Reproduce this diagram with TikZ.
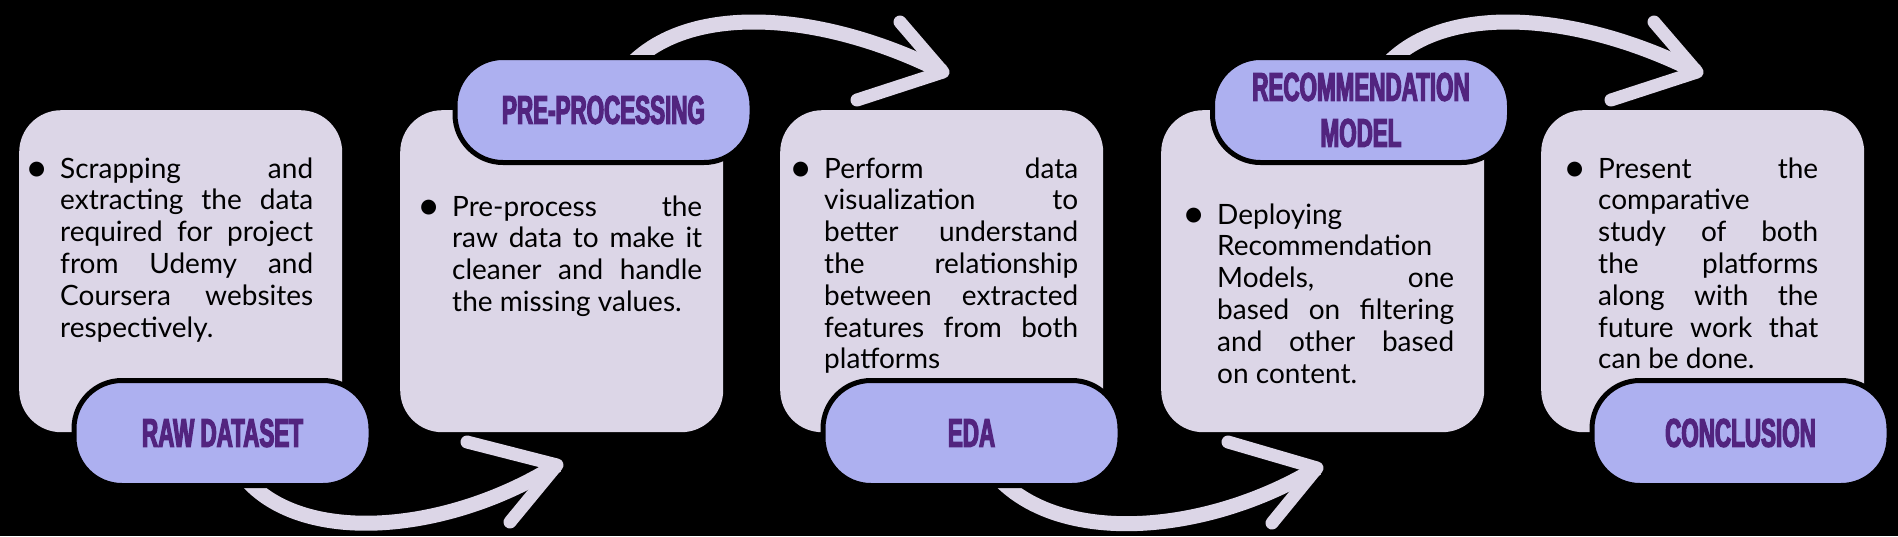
\documentclass[tikz,border=0pt]{standalone}
\usepackage{fontspec}
\setmainfont{Lato}
\newfontfamily\labelfont[FakeStretch=0.56,FakeBold=3]{Liberation Sans}
\usetikzlibrary{backgrounds}

\definecolor{boxfill}{HTML}{DCD6E7}
\definecolor{pillfill}{HTML}{ADB0F0}
\definecolor{labelink}{HTML}{52247F}

\newcommand{\bodytext}[2]{\parbox[t]{#1}{\fontsize{28}{31.8}\selectfont
  \tolerance=10000\hbadness=10000\hyphenpenalty=10000\exhyphenpenalty=10000
  \leavevmode\llap{\raisebox{-3.5pt}{\fontsize{40}{40}\selectfont\textbullet}\hspace{12pt}}#2}}

\begin{document}
\begin{tikzpicture}[x=1pt,y=-1pt,
    box/.style={fill=boxfill,rounded corners=42pt,anchor=north west,
      minimum width=323pt,minimum height=322pt,inner sep=0pt},
    pill/.style={draw=black,line width=5pt,fill=pillfill,rounded corners=48pt,
      minimum width=297pt,minimum height=105pt,inner sep=0pt,text=labelink,
      align=center,font=\labelfont\bfseries\fontsize{40}{46}\selectfont},
    item/.style={anchor=base west,inner sep=0pt},
    flow/.style={draw=boxfill,line width=15pt},
    barb/.style={draw=boxfill,line width=13pt,line cap=round,line join=round}]
  \useasboundingbox (0,0) rectangle (1898,536);

  \node[box] (raw) at (19,110) {};
  \node[box] (pre) at (400,110) {};
  \node[box] (eda) at (780,110) {};
  \node[box] (rec) at (1161,110) {};
  \node[box] (con) at (1541,110) {};

  \node[pill] (rawlab) at (222.5,433) {RAW DATASET};
  \node[pill] (prelab) at (603.5,110) {PRE-PROCESSING};
  \node[pill] (edalab) at (971.5,433) {EDA};
  \node[pill] (reclab) at (1361,110) {RECOMMENDATION\\MODEL};
  \node[pill] (conlab) at (1740.5,433) {CONCLUSION};

  \node[item] (rawtxt) at (60,178) {\bodytext{253pt}{Scrapping and\linebreak
    extracting the data\linebreak required for project\linebreak
    from Udemy and\linebreak Coursera websites\linebreak respectively.}};
  \node[item] (pretxt) at (452,216) {\bodytext{250pt}{Pre-process the\linebreak
    raw data to make it\linebreak cleaner and handle\linebreak the missing values.}};
  \node[item] (edatxt) at (824,178) {\bodytext{254pt}{Perform data\linebreak
    visualization to\linebreak better understand\linebreak the relationship\linebreak
    between extracted\linebreak features from both\linebreak platforms}};
  \node[item] (rectxt) at (1217,224) {\bodytext{237pt}{Deploying\linebreak
    Recommendation\linebreak Models, one\linebreak based on filtering\linebreak
    and other based\linebreak on content.}};
  \node[item] (contxt) at (1598,178) {\bodytext{220pt}{Present the\linebreak
    comparative\linebreak study of both\linebreak the platforms\linebreak
    along with the\linebreak future work that\linebreak can be done.}};

  \coordinate (tip1) at (557,465);
  \coordinate (tip2) at (943,72);
  \coordinate (tip3) at (1317,468);
  \coordinate (tip4) at (1697,72);

  \begin{scope}[on background layer]
    \fill[black] (0,0) rectangle (1898,536);
    \draw[flow] (rawlab.center) .. controls (250,550) and (430,545) .. (tip1);
    \draw[barb] (tip1) ++(-90,-23) -- (tip1) -- ++(-47,57);
    \draw[flow] (prelab.center) .. controls (640,0) and (800,0) .. (tip2);
    \draw[barb] (tip2) ++(-43,-50) -- (tip2) -- ++(-86,28);
    \draw[flow] (edalab.center) .. controls (1010,550) and (1190,545) .. (tip3);
    \draw[barb] (tip3) ++(-89,-26) -- (tip3) -- ++(-45,55);
    \draw[flow] (reclab.center) .. controls (1394,0) and (1554,0) .. (tip4);
    \draw[barb] (tip4) ++(-43,-50) -- (tip4) -- ++(-86,28);
  \end{scope}
\end{tikzpicture}
\end{document}
